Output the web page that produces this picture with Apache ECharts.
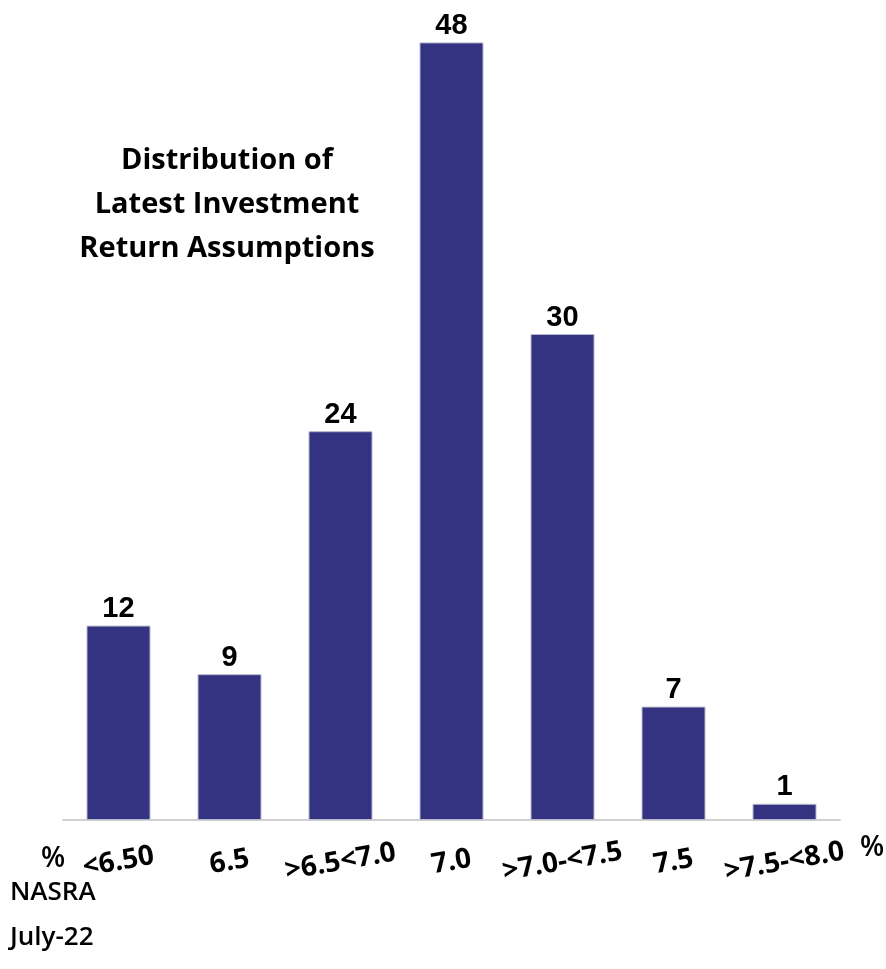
<!DOCTYPE html>
<html><head><meta charset="utf-8">
<script src="https://cdn.jsdelivr.net/npm/echarts@6/dist/echarts.min.js"></script>
<style>html,body{margin:0;padding:0;background:#fff}#c{width:886px;height:969px}</style>
</head><body><div id="c"></div>
<script>
const categories = ['<6.50', '6.5', '>6.5<7.0', '7.0', '>7.0-<7.5', '7.5', '>7.5-<8.0'];
const values = [12, 9, 24, 48, 30, 7, 1];
const titleLines = ['Distribution of', 'Latest Investment', 'Return Assumptions'];
const sourceLines = ['NASRA', 'July-22'];

const chart = echarts.init(document.getElementById('c'));
chart.setOption({
  animation: false,
  backgroundColor: '#ffffff',
  grid: { left: 63, right: 46, top: 10, bottom: 149, containLabel: false },
  xAxis: {
    type: 'category',
    data: categories,
    axisLine: { lineStyle: { color: '#d0d0d0', width: 2 } },
    axisTick: { alignWithLabel: true, length: 9, lineStyle: { color: '#c8c8c8', width: 1.5 } },
    axisLabel: {
      interval: 0, rotate: 10, align: 'center', verticalAlign: 'middle', margin: 42,
      fontFamily: 'Open Sans', fontWeight: 700, fontSize: 28, color: '#000'
    }
  },
  yAxis: { type: 'value', min: 0, max: 50, show: false, splitLine: { show: false } },
  series: [{
    type: 'bar',
    data: values,
    barWidth: 64,
    itemStyle: { color: '#333381', borderColor: '#b8b8cc', borderWidth: 1 },
    label: {
      show: true, position: 'top', distance: 2,
      fontFamily: 'Liberation Sans', fontWeight: 'bold', fontSize: 29, color: '#000'
    }
  }],
  graphic: [
    {
      type: 'text', x: 227, y: 139,
      style: {
        text: titleLines.join('\n'), align: 'center', verticalAlign: 'top',
        fontFamily: 'Open Sans', fontWeight: 700, fontSize: 29, lineHeight: 44, fill: '#000'
      }
    },
    { type: 'text', x: 41, y: 845, style: { text: '%', fontFamily: 'Open Sans', fontWeight: 600, fontSize: 28, fill: '#000' } },
    { type: 'text', x: 860, y: 834, style: { text: '%', fontFamily: 'Open Sans', fontWeight: 600, fontSize: 28, fill: '#000' } },
    {
      type: 'text', x: 10, y: 870,
      style: { text: sourceLines.join('\n'), fontFamily: 'Open Sans', fontWeight: 600, fontSize: 26, lineHeight: 45, fill: '#000' }
    }
  ]
});
</script></body></html>
